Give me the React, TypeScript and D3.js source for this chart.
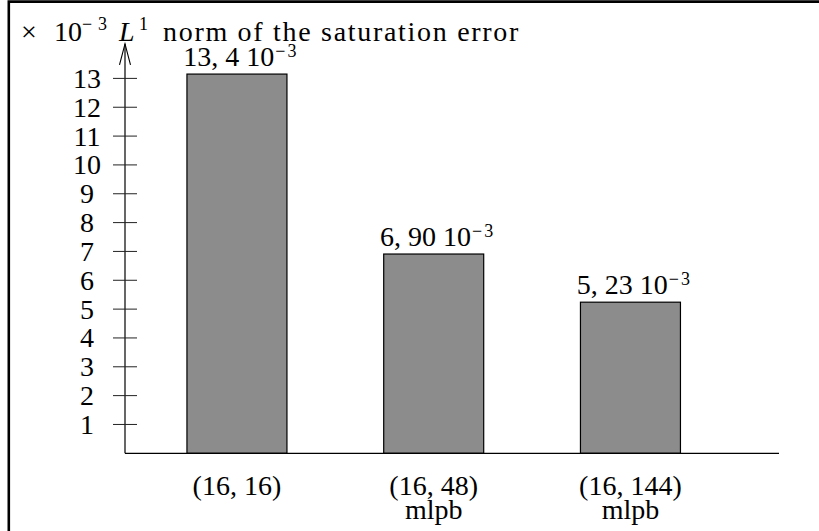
// Bar chart: L1 norm of the saturation error (pgfplots style)
import React, { useEffect, useRef } from 'react';
import * as d3 from 'd3';

const categories = ['(16, 16)', '(16, 48)', '(16, 144)'];
const subLabels = ['', 'mlpb', 'mlpb'];
const errorValues = [13.15, 6.91, 5.24]; // drawn heights, in 10^-3
const valueLabels = ['13, 4', '6, 90', '5, 23'];
const yTicks = [1, 2, 3, 4, 5, 6, 7, 8, 9, 10, 11, 12, 13];

const App: React.FC = () => {
  const plotRef = useRef<SVGSVGElement>(null);

  useEffect(() => {
    if (!plotRef.current) return;
    const svg = d3.select(plotRef.current);
    svg.selectAll('*').remove();

    const fs = 28;
    const supFs = 18;

    const x = d3.scaleLinear().domain([0.431, 3.755]).range([125, 779]);
    const y = d3.scaleLinear().domain([0, 14.2]).range([453.3, 43.8]);
    const barWidth = 100;
    const ax = x(x.domain()[0]);
    const base = y(0);
    const top = y(y.domain()[1]);

    const root = svg.append('g')
      .attr('font-family', 'Liberation Serif, DejaVu Serif, serif')
      .attr('font-size', fs);

    // frame (only top and left edges are visible)
    root.append('path')
      .attr('d', 'M8.8,531 L8.8,1.6 L819,1.6')
      .attr('fill', 'none')
      .attr('stroke', '#000')
      .attr('stroke-width', 2.6);

    // bars
    root.selectAll('.bar')
      .data(errorValues)
      .enter()
      .append('rect')
      .attr('class', 'bar')
      .attr('x', (_, i) => x(i + 1) - barWidth / 2)
      .attr('y', d => y(d))
      .attr('width', barWidth)
      .attr('height', d => base - y(d))
      .attr('fill', '#8c8c8c')
      .attr('stroke', '#000')
      .attr('stroke-width', 1.2);

    // axes
    root.append('line')
      .attr('x1', ax).attr('x2', x(x.domain()[1]))
      .attr('y1', base).attr('y2', base)
      .attr('stroke', '#000').attr('stroke-width', 1.2);
    root.append('line')
      .attr('x1', ax).attr('x2', ax)
      .attr('y1', base).attr('y2', top)
      .attr('stroke', '#000').attr('stroke-width', 1.2);
    root.append('path')
      .attr('d', `M${ax - 5.5},${top + 21} L${ax},${top} L${ax + 5.5},${top + 21}`)
      .attr('fill', 'none')
      .attr('stroke', '#000')
      .attr('stroke-width', 1.1);

    // y ticks
    root.selectAll('.tick')
      .data(yTicks)
      .enter()
      .append('line')
      .attr('x1', ax - 12).attr('x2', ax + 12)
      .attr('y1', d => y(d)).attr('y2', d => y(d))
      .attr('stroke', '#222').attr('stroke-width', 1);
    root.selectAll('.tick-label')
      .data(yTicks)
      .enter()
      .append('text')
      .attr('x', 87)
      .attr('y', d => y(d) + 9.5)
      .attr('text-anchor', 'middle')
      .text(d => d);

    // value labels
    errorValues.forEach((v, i) => {
      const t = root.append('text')
        .attr('x', x(i + 1) + 4)
        .attr('y', y(v) - 8)
        .attr('text-anchor', 'middle');
      t.append('tspan').text(`${valueLabels[i]} 10`);
      t.append('tspan')
        .attr('dy', -9)
        .attr('dx', 1)
        .attr('font-size', supFs)
        .attr('letter-spacing', 2)
        .text('\u22123');
    });

    // category labels (second line as a tspan)
    categories.forEach((c, i) => {
      const t = root.append('text')
        .attr('text-anchor', 'middle');
      t.append('tspan')
        .attr('x', x(i + 1))
        .attr('y', base + 42)
        .text(c);
      if (subLabels[i]) {
        t.append('tspan')
          .attr('x', x(i + 1))
          .attr('y', base + 66)
          .text(subLabels[i]);
      }
    });

    // axis title
    const tb = 41;
    const title = root.append('text').attr('y', tb);
    title.append('tspan').attr('x', 21).attr('y', tb).text('\u00d7');
    title.append('tspan').attr('x', 54).attr('y', tb).text('10');
    title.append('tspan').attr('x', 82).attr('y', tb - 11).attr('font-size', supFs).text('\u2212');
    title.append('tspan').attr('x', 98).attr('y', tb - 11).attr('font-size', supFs).text('3');
    title.append('tspan').attr('x', 119).attr('y', tb).attr('font-style', 'italic').text('L');
    title.append('tspan').attr('x', 139).attr('y', tb - 11).attr('font-size', supFs).text('1');
    title.append('tspan').attr('x', 163).attr('y', tb)
      .attr('letter-spacing', 1.7)
      .text('norm of the saturation error');
  }, []);

  return (
    <svg
      ref={plotRef}
      width={819}
      height={531}
      style={{ position: 'absolute', left: 0, top: 0, background: '#fff' }}
    />
  );
};

export default App;
